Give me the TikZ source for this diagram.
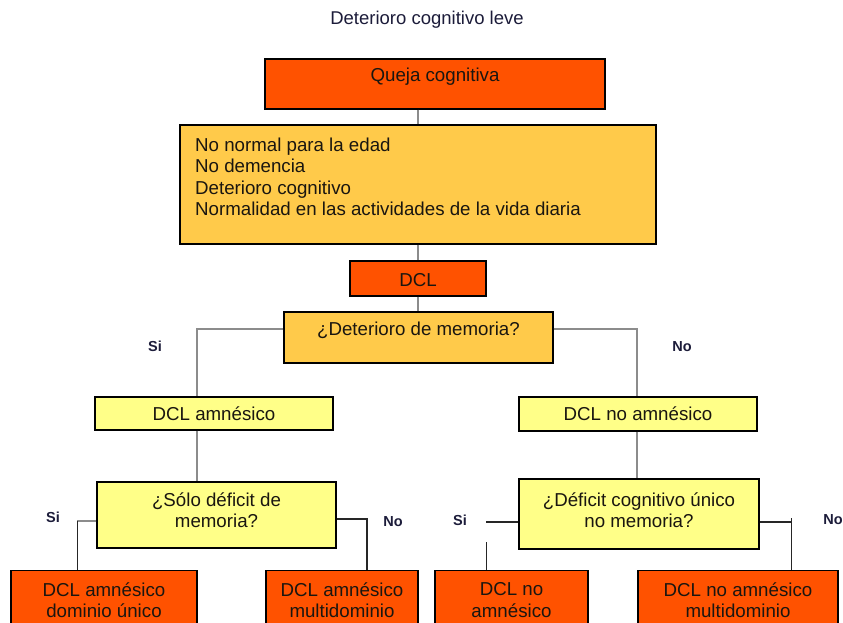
\documentclass[tikz,border=0pt]{standalone}
\usepackage{fontspec}
\setmainfont{Liberation Sans}
\definecolor{dorange}{HTML}{FF5200}
\definecolor{morange}{HTML}{FFCA4A}
\definecolor{lyellow}{HTML}{FFFF88}
\definecolor{conngray}{HTML}{8C8C8C}
\definecolor{txtdark}{HTML}{1A1610}
\definecolor{lbl}{HTML}{1C1C3A}
\tikzset{
  boxbase/.style={draw=black, line width=1.4pt, inner sep=0pt},
  obox/.style={boxbase, fill=dorange},
  mbox/.style={boxbase, fill=morange},
  ybox/.style={boxbase, fill=lyellow},
  txt/.style={font=\fontsize{18.7}{21.5}\selectfont, text=txtdark, align=center, inner sep=0pt},
  lab/.style={font=\fontsize{14.5}{17}\selectfont\bfseries, text=lbl, inner sep=0pt},
  gconn/.style={draw=conngray, line width=2.2pt},
  bconn/.style={draw=black!85, line width=1.3pt},
}
\begin{document}
\begin{tikzpicture}[x=1pt,y=-1pt]
\useasboundingbox (0,0) rectangle (843,623);
\clip (0,0) rectangle (843,623);
\fill[white] (0,0) rectangle (843,623);

\node[txt, font=\fontsize{18.5}{20}\selectfont, text=lbl] (title) at (427,20) {Deterioro cognitivo leve};

% boxes
\node[obox, minimum width=340pt, minimum height=50pt] (queja) at (435,84) {};
\node[txt] (quejat) at (435,77) {Queja cognitiva};

\node[mbox, minimum width=476pt, minimum height=119pt] (crit) at (418,184.5) {};
\node[txt, align=left, anchor=west] (critt) at (195,177) {No normal para la edad\\No demencia\\Deterioro cognitivo\\Normalidad en las actividades de la vida diaria};

\node[obox, minimum width=136pt, minimum height=35pt] (dcl) at (418,278.5) {};
\node[txt] (dclt) at (418,280) {DCL};

\node[mbox, minimum width=269pt, minimum height=51pt] (detmem) at (418.5,337.5) {};
\node[txt] (detmemt) at (418.5,330) {¿Deterioro de memoria?};

\node[ybox, minimum width=238pt, minimum height=33pt] (amn) at (214,413.5) {};
\node[txt] (amnt) at (214,414) {DCL amnésico};

\node[ybox, minimum width=238pt, minimum height=34pt] (noamn) at (638,414) {};
\node[txt] (noamnt) at (638,414) {DCL no amnésico};

\node[ybox, minimum width=239pt, minimum height=66pt] (solo) at (216.5,515) {};
\node[txt] (solot) at (216.5,510) {¿Sólo déficit de\\memoria?};

\node[ybox, minimum width=240pt, minimum height=70pt] (defic) at (639,514) {};
\node[txt] (defict) at (639,510) {¿Déficit cognitivo único\\no memoria?};

\node[obox, minimum width=186pt, minimum height=90pt, anchor=north] (b1) at (104,569.5) {};
\node[txt] (b1t) at (104,600) {DCL amnésico\\dominio único};

\node[obox, minimum width=152pt, minimum height=90pt, anchor=north] (b2) at (342,569.5) {};
\node[txt] (b2t) at (342,600) {DCL amnésico\\multidominio};

\node[obox, minimum width=153pt, minimum height=90pt, anchor=north] (b3) at (511.5,569.5) {};
\node[txt] (b3t) at (511.5,600) {DCL no\\amnésico};

\node[obox, minimum width=200pt, minimum height=90pt, anchor=north] (b4) at (738,569.5) {};
\node[txt] (b4t) at (738,600) {DCL no amnésico\\multidominio};

% connectors
\draw[gconn] (queja.south -| crit.north) -- (crit.north);
\draw[gconn] (crit.south) -- (dcl.north);
\draw[gconn] (dcl.south) -- (dcl.south |- detmem.north);

\draw[gconn] ([yshift=8.5pt]detmem.west) -| ([xshift=-17pt]amn.north);
\draw[gconn] ([yshift=8.5pt]detmem.east) -| ([xshift=-1pt]noamn.north);

\draw[gconn] ([xshift=-17pt]amn.south) -- ([xshift=-17pt]amn.south |- solo.north);
\draw[gconn] ([xshift=-1pt]noamn.south) -- ([xshift=-1pt]noamn.south |- defic.north);

% bottom-left branch of solo
\coordinate (sL) at ([xshift=-19pt,yshift=-6pt]solo.west);
\draw[gconn] ([yshift=-6pt]solo.west) -- (sL);
\draw[bconn] (sL) -- (sL |- b1.north);
% bottom-right branch of solo
\draw[bconn] ([yshift=-4pt]solo.east) -| ([xshift=25pt]b2.north);

% defic left branch (with gap)
\coordinate (dL) at ([xshift=-32pt,yshift=-8pt]defic.west);
\draw[bconn] ([yshift=-8pt]defic.west) -- (dL);
\coordinate (dL2) at ([yshift=-20pt]dL);
\draw[bconn] (dL2) -- (dL2 |- b3.north);
% defic right branch
\coordinate (dR) at ([xshift=32pt,yshift=-8pt]defic.east);
\draw[bconn] ([yshift=-8pt]defic.east) -- (dR);
\draw[bconn] ([yshift=4pt]dR) -- (dR |- b4.north);

% labels
\node[lab] (si1) at (155,346) {Si};
\node[lab] (no1) at (682,347) {No};
\node[lab] (si2) at (53,517) {Si};
\node[lab] (no2) at (393,522) {No};
\node[lab] (si3) at (460,520) {Si};
\node[lab] (no3) at (833,520) {No};
\end{tikzpicture}
\end{document}
